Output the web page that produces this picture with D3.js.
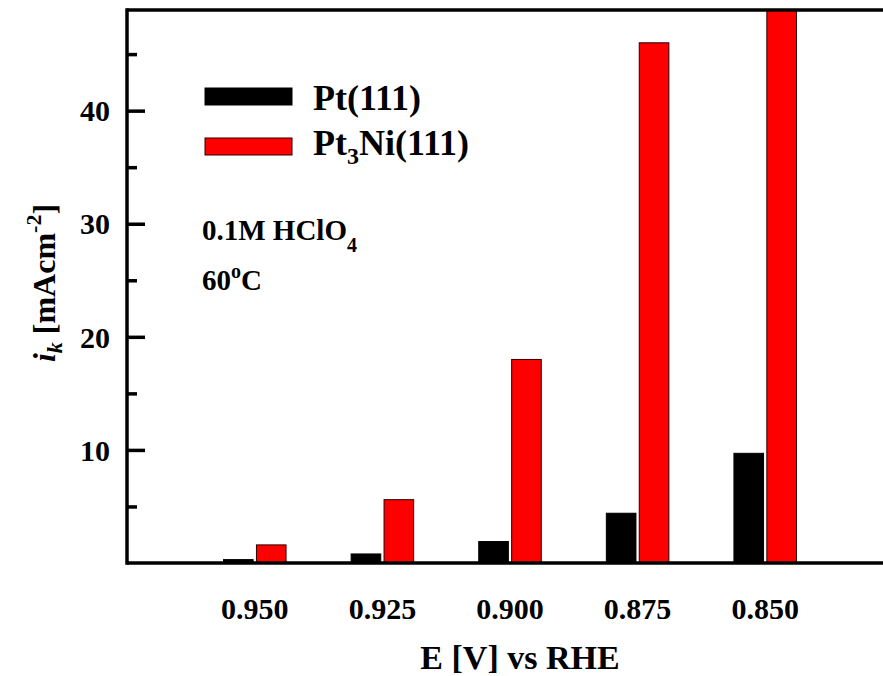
<!DOCTYPE html>
<html>
<head>
<meta charset="utf-8">
<script src="https://cdn.jsdelivr.net/npm/d3@7"></script>
<style>
    body { margin: 0; background: #fff; }
</style>
</head>
<body>
<div id="chart"></div>
<script>
// data
const potentials = ["0.950", "0.925", "0.900", "0.875", "0.850"];
const series = ["Pt(111)", "Pt3Ni(111)"];
const ptValues = [0.3, 0.8, 1.9, 4.4, 9.7];
const pt3niValues = [1.6, 5.6, 18.0, 46.0, 52.0];
const yTicks = [10, 20, 30, 40];
const yMinorTicks = [5, 15, 25, 35, 45];
const colors = ["#000000", "#ff0000"];

const width = 883;
const height = 676;
const margin = {t: 10, b: 113, l: 127, r: 0};
const serif = "Liberation Serif";

const svg = d3.select("#chart")
    .append("svg")
    .attr("width", width)
    .attr("height", height)
    .attr("viewBox", [0, 0, width, height])
    .attr("font-weight", "bold");

const rows = potentials.map((p, i) => ({potential: p, values: [ptValues[i], pt3niValues[i]]}));

const x0 = d3.scaleBand()
    .domain(potentials)
    .range([191, 829])
    .paddingInner(0.51)
    .paddingOuter(0.255);
const x1 = d3.scaleBand()
    .domain(series)
    .range([0, x0.bandwidth()])
    .paddingInner(0.1);
const y = d3.scaleLinear()
    .domain([0, 48.9])
    .range([height - margin.b, margin.t]);

//Clip for the plot area
svg.append("clipPath")
    .attr("id", "plotClip")
    .append("rect")
    .attr("x", margin.l)
    .attr("y", margin.t)
    .attr("width", width - margin.l)
    .attr("height", height - margin.b - margin.t);

//Bars
const groups = svg.append("g")
    .attr("clip-path", "url(#plotClip)")
    .selectAll("g")
    .data(rows)
    .join("g")
    .attr("transform", d => `translate(${x0(d.potential)},0)`);

groups.selectAll("rect")
    .data(d => d.values.map((v, i) => ({key: series[i], value: v, i: i})))
    .join("rect")
    .attr("x", d => x1(d.key))
    .attr("y", d => y(d.value))
    .attr("width", x1.bandwidth())
    .attr("height", d => y(0) - y(d.value))
    .attr("fill", d => colors[d.i])
    .attr("stroke", d => d.i === 0 ? "#000" : "#2a0000")
    .attr("stroke-width", 1);

//Y axis ticks (inward)
const yAxis = svg.append("g")
    .attr("transform", `translate(${margin.l},0)`)
    .call(d3.axisLeft(y).tickValues(yTicks).tickSize(-18).tickPadding(17).tickSizeOuter(0));
yAxis.attr("font-size", 30);
yAxis.select(".domain").remove();
yAxis.selectAll("line").attr("stroke", "#000").attr("stroke-width", 3.5);
yAxis.selectAll("text").attr("dy", "0.34em");

const yMinor = svg.append("g")
    .attr("transform", `translate(${margin.l},0)`)
    .call(d3.axisLeft(y).tickValues(yMinorTicks).tickSize(-10).tickFormat("").tickSizeOuter(0));
yMinor.select(".domain").remove();
yMinor.selectAll("line").attr("stroke", "#000").attr("stroke-width", 3.5);

//X axis labels
const xAxis = svg.append("g")
    .attr("transform", `translate(0,${height - margin.b})`)
    .call(d3.axisBottom(x0).tickSize(0).tickPadding(35));
xAxis.attr("font-size", 30);
xAxis.select(".domain").remove();

//Frame
const frame = svg.append("g")
    .attr("stroke", "#000")
    .attr("stroke-width", 3.5)
    .attr("fill", "none");
frame.append("line")
    .attr("x1", margin.l).attr("x2", margin.l)
    .attr("y1", margin.t - 1.75).attr("y2", height - margin.b + 1.75);
frame.append("line")
    .attr("x1", margin.l).attr("x2", width)
    .attr("y1", margin.t).attr("y2", margin.t);
frame.append("line")
    .attr("x1", margin.l).attr("x2", width)
    .attr("y1", height - margin.b).attr("y2", height - margin.b);

//Axis titles
svg.append("text")
    .attr("x", 520)
    .attr("y", 669)
    .attr("text-anchor", "middle")
    .attr("font-size", 34)
    .text("E [V] vs RHE");

const yTitle = svg.append("text")
    .attr("transform", "translate(55,283) rotate(-90)")
    .attr("text-anchor", "middle")
    .attr("font-size", 32);
yTitle.append("tspan").attr("font-style", "italic").text("i");
yTitle.append("tspan").attr("font-style", "italic").attr("font-size", 22).attr("dy", 7).text("k");
yTitle.append("tspan").attr("dy", -7).text(" [mAcm");
yTitle.append("tspan").attr("font-size", 22).attr("dy", -14).text("-2");
yTitle.append("tspan").attr("dy", 14).text("]");

//Legend
const legend = svg.append("g");
series.forEach((s, i) => {
    legend.append("rect")
        .attr("x", 205)
        .attr("y", 88 + i * 50)
        .attr("width", 87)
        .attr("height", 17)
        .attr("fill", colors[i])
        .attr("stroke", i === 0 ? "#000" : "#2a0000")
        .attr("stroke-width", 1);
});
legend.append("text")
    .attr("x", 313)
    .attr("y", 110)
    .attr("font-size", 36)
    .text("Pt(111)");
const lg2 = legend.append("text")
    .attr("x", 313)
    .attr("y", 155)
    .attr("font-size", 36);
lg2.append("tspan").text("Pt");
lg2.append("tspan").attr("font-size", 24).attr("dy", 9).text("3");
lg2.append("tspan").attr("dy", -9).text("Ni(111)");

//Conditions
const cond1 = svg.append("text")
    .attr("x", 202)
    .attr("y", 240)
    .attr("font-size", 29);
cond1.append("tspan").text("0.1M HClO");
cond1.append("tspan").attr("font-size", 20).attr("dy", 12).text("4");

const cond2 = svg.append("text")
    .attr("x", 202)
    .attr("y", 290)
    .attr("font-size", 29);
cond2.append("tspan").text("60");
cond2.append("tspan").attr("font-size", 20).attr("dy", -12).text("o");
cond2.append("tspan").attr("dy", 12).text("C");

// put the serif face on every text directly
svg.selectAll("text")
    .attr("font-family", serif)
    .attr("fill", "#000");
</script>
</body>
</html>
